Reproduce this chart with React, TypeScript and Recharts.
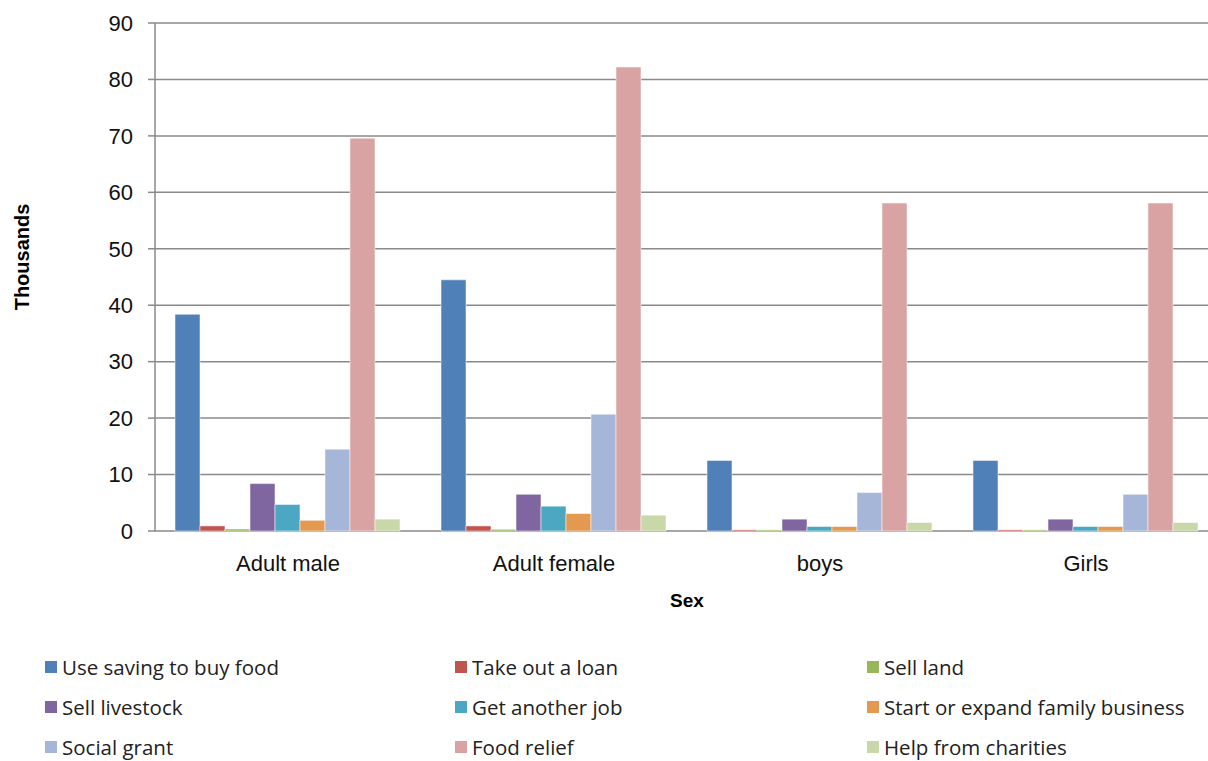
import { BarChart, Bar, XAxis, YAxis, CartesianGrid } from 'recharts'

// categories on the x axis
const categories = ['Adult male', 'Adult female', 'boys', 'Girls']

// values in thousands, one array per coping strategy
const useSaving = [38.4, 44.5, 12.5, 12.5]
const takeLoan = [0.9, 0.9, 0.2, 0.2]
const sellLand = [0.35, 0.3, 0.2, 0.2]
const sellLivestock = [8.4, 6.5, 2.1, 2.1]
const anotherJob = [4.7, 4.4, 0.8, 0.8]
const familyBusiness = [1.9, 3.1, 0.8, 0.8]
const socialGrant = [14.5, 20.7, 6.8, 6.5]
const foodRelief = [69.6, 82.2, 58.1, 58.1]
const charities = [2.1, 2.8, 1.5, 1.5]

const yTicks = [0, 10, 20, 30, 40, 50, 60, 70, 80, 90]
const edgeTicks = [0, 1, 2, 3, 4]

const series = [
	{ key: 'useSaving', name: 'Use saving to buy food', values: useSaving, color: '#4F81B8' },
	{ key: 'takeLoan', name: 'Take out a loan', values: takeLoan, color: '#C0544E' },
	{ key: 'sellLand', name: 'Sell land', values: sellLand, color: '#98B75B' },
	{ key: 'sellLivestock', name: 'Sell livestock', values: sellLivestock, color: '#8066A1' },
	{ key: 'anotherJob', name: 'Get another job', values: anotherJob, color: '#4CA8C2' },
	{ key: 'familyBusiness', name: 'Start or expand family business', values: familyBusiness, color: '#E3994F' },
	{ key: 'socialGrant', name: 'Social grant', values: socialGrant, color: '#A5B6D8' },
	{ key: 'foodRelief', name: 'Food relief', values: foodRelief, color: '#D8A3A2' },
	{ key: 'charities', name: 'Help from charities', values: charities, color: '#C8D8A8' },
]

const data = categories.map((name, i) => {
	const row: Record<string, number | string> = { name, idx: i + 0.5 }
	series.forEach((s) => {
		row[s.key] = s.values[i]
	})
	return row
})

const axisColor = '#8a8a8a'
const font = '"Liberation Sans", Arial, sans-serif'

// rotated y axis title, sitting a bit above the plot centre like the original
const YTitle = ({ viewBox }: any) => {
	const cx = 22
	const cy = viewBox.y + viewBox.height / 2 - 20
	return (
		<text
			x={cx}
			y={cy}
			transform={`rotate(-90 ${cx} ${cy})`}
			textAnchor='middle'
			dominantBaseline='central'
			fontWeight='bold'
			fontSize={20}
			fill='#000'>
			Thousands
		</text>
	)
}

export default function App() {
	return (
		<div style={{ position: 'relative', width: 1208, height: 761, overflow: 'hidden', background: '#fff' }}>
			<style>{'body{margin:0}'}</style>
			<BarChart
				width={1219}
				height={640}
				data={data}
				margin={{ top: 23, right: 0, left: 0, bottom: 19 }}
				barCategoryGap={20}
				barGap={0}
				style={{ fontFamily: font }}>
				<CartesianGrid xAxisId='cat' vertical={false} stroke={axisColor} strokeWidth={1.5} />
				<XAxis
					xAxisId='edges'
					type='number'
					dataKey='idx'
					domain={[0, 4]}
					ticks={edgeTicks}
					tick={false}
					tickSize={8}
					height={0}
					stroke={axisColor}
					strokeWidth={1.5}
				/>
				<XAxis
					xAxisId='cat'
					dataKey='name'
					height={90}
					axisLine={false}
					tickLine={false}
					tickMargin={18}
					tick={{ fill: '#111', fontSize: 22 }}
					label={{
						value: 'Sex',
						position: 'insideTop',
						offset: 63,
						style: { fill: '#000', fontWeight: 'bold', fontSize: 19 },
					}}
				/>
				<YAxis
					width={155}
					domain={[0, 90]}
					ticks={yTicks}
					interval={0}
					tickSize={7}
					tickMargin={15}
					stroke={axisColor}
					strokeWidth={1.5}
					tick={{ fill: '#111', fontSize: 22 }}
					label={<YTitle />}
				/>
				{series.map((s) => (
					<Bar
						key={s.key}
						xAxisId='cat'
						dataKey={s.key}
						name={s.name}
						fill={s.color}
						stroke='#ffffff'
						strokeOpacity={0.5}
						strokeWidth={1}
						isAnimationActive={false}
					/>
				))}
			</BarChart>
			{/* legend, three columns */}
			<div
				style={{
					position: 'absolute',
					left: 45,
					top: 647,
					display: 'grid',
					gridTemplateColumns: '410px 412px auto',
					gridAutoRows: '40px',
					fontFamily: '"Open Sans", sans-serif',
					fontSize: 20.5,
					lineHeight: '24px',
					color: '#222',
				}}>
				{series.map((s) => (
					<div key={s.key} style={{ display: 'flex', alignItems: 'center', height: 40 }}>
						<span style={{ width: 12, height: 12, background: s.color, marginRight: 5, display: 'inline-block' }} />
						<span>{s.name}</span>
					</div>
				))}
			</div>
		</div>
	)
}
